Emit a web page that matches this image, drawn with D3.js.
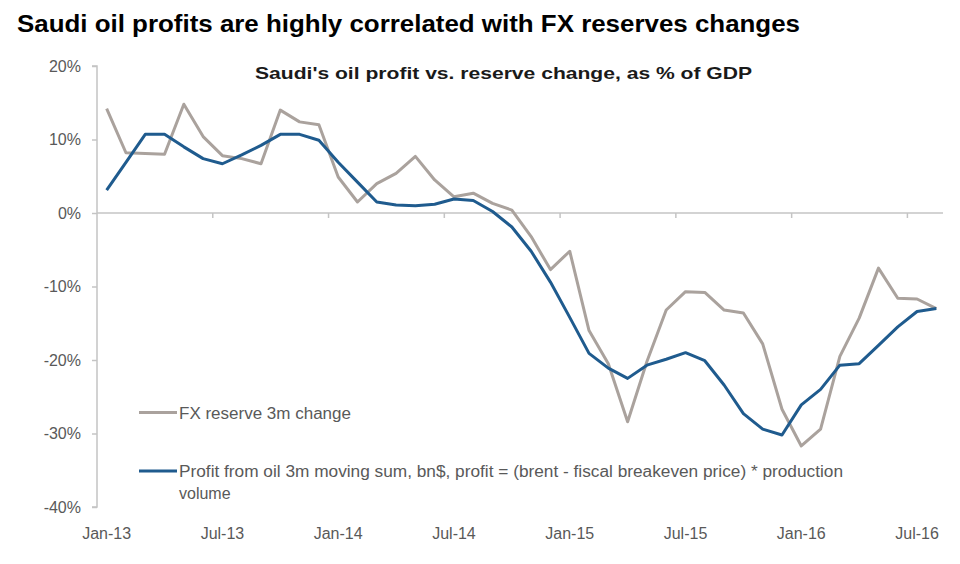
<!DOCTYPE html>
<html>
<head>
<meta charset="utf-8">
<script src="https://cdn.jsdelivr.net/npm/d3@7"></script>
<style>
html,body{margin:0;padding:0;background:#fff;}
svg{display:block;}
text{font-family:"Liberation Sans",Arial,Helvetica,sans-serif;}
</style>
</head>
<body>
<svg id="chart" width="960" height="564"></svg>
<script>
// ---- data ----
const months = ["Jan-13","Feb-13","Mar-13","Apr-13","May-13","Jun-13","Jul-13","Aug-13","Sep-13","Oct-13","Nov-13","Dec-13",
  "Jan-14","Feb-14","Mar-14","Apr-14","May-14","Jun-14","Jul-14","Aug-14","Sep-14","Oct-14","Nov-14","Dec-14",
  "Jan-15","Feb-15","Mar-15","Apr-15","May-15","Jun-15","Jul-15","Aug-15","Sep-15","Oct-15","Nov-15","Dec-15",
  "Jan-16","Feb-16","Mar-16","Apr-16","May-16","Jun-16","Jul-16","Aug-16"];
const fxReserve = [14.2,8.2,8.1,8.0,14.8,10.4,7.8,7.4,6.7,14.0,12.4,12.0,
  4.9,1.5,4.0,5.4,7.7,4.5,2.2,2.7,1.3,0.4,-3.2,-7.7,
  -5.2,-16.0,-20.5,-28.4,-20.2,-13.2,-10.7,-10.8,-13.2,-13.6,-17.8,-26.7,
  -31.7,-29.4,-19.5,-14.3,-7.5,-11.6,-11.7,-13.0];
const oilProfit = [3.1,6.9,10.7,10.7,9.0,7.4,6.7,7.9,9.2,10.7,10.7,9.9,
  6.9,4.2,1.5,1.1,1.0,1.2,1.9,1.7,0.2,-1.9,-5.2,-9.4,
  -14.2,-19.1,-21.1,-22.5,-20.7,-19.9,-19.0,-20.1,-23.4,-27.3,-29.4,-30.2,
  -26.1,-24.0,-20.7,-20.5,-18.0,-15.5,-13.4,-13.0];
const yTicks = [20,10,0,-10,-20,-30,-40];
const xLabels = ["Jan-13","Jul-13","Jan-14","Jul-14","Jan-15","Jul-15","Jan-16","Jul-16"];
const seriesNames = ["FX reserve 3m change",
  "Profit from oil 3m moving sum, bn$, profit = (brent - fiscal breakeven price) * production"];
const seriesNames2 = ["", "volume"];

const title = "Saudi oil profits are highly correlated with FX reserves changes";
const subtitle = "Saudi's oil profit vs. reserve change, as % of GDP";

// ---- drawing ----
const svg = d3.select("#chart");
const axisColor = "#c4c4c4";
const labelColor = "#595959";
const greyColor = "#aaa29d";
const blueColor = "#1f5b8e";

const x = d3.scaleBand().domain(months).range([97, 946]).padding(0);
const y = d3.scaleLinear().domain([-40, 20]).range([507, 66]);
const cx = d => x(d) + x.bandwidth() / 2;

function fitText(sel, target) {
  const n = sel.node();
  const w = n.getComputedTextLength();
  if (Math.abs(w - target) > 1) sel.attr("textLength", target).attr("lengthAdjust", "spacingAndGlyphs");
}

// title
const t = svg.append("text").attr("x", 17).attr("y", 32)
  .attr("font-size", 23).attr("font-weight", "bold").attr("fill", "#000").text(title);
fitText(t, 783);

// subtitle
const st = svg.append("text").attr("x", 255).attr("y", 79)
  .attr("font-size", 17).attr("font-weight", "bold").attr("fill", "#1a1a1a").text(subtitle);
fitText(st, 497);

// y axis
const yAxis = d3.axisLeft(y).tickValues(yTicks).tickSize(5).tickPadding(11)
  .tickFormat(d => d + "%");
const gy = svg.append("g").attr("transform", "translate(97,0)").call(yAxis);
gy.select(".domain").attr("stroke", axisColor).attr("stroke-width", 1.5).attr("d", `M-5,${y(20)}H0V${y(-40)}H-5`);
gy.selectAll(".tick line").attr("stroke", axisColor).attr("stroke-width", 1.5);
gy.selectAll(".tick text").attr("fill", labelColor).attr("font-size", 16)
  .attr("font-family", "Liberation Sans, Arial, sans-serif");

// x axis at zero (ticks at category boundaries)
const boundaryTicks = months.filter((d, i) => i > 0 && i % 6 === 0);
const xAxis = d3.axisBottom(x).tickValues(boundaryTicks).tickSize(5).tickFormat("");
const gx = svg.append("g").attr("transform", `translate(0,${y(0)})`).call(xAxis);
gx.select(".domain").attr("stroke", axisColor).attr("stroke-width", 1.5).attr("d", `M97,0H943`);
gx.selectAll(".tick").attr("transform", d => `translate(${x(d)},0)`);
gx.selectAll(".tick line").attr("stroke", axisColor).attr("stroke-width", 1.5);

// x labels at the bottom
svg.append("g").selectAll("text").data(xLabels).join("text")
  .attr("x", d => cx(d)).attr("y", 539)
  .attr("text-anchor", "middle").attr("fill", labelColor).attr("font-size", 16)
  .text(d => d);

// lines
const line = d3.line().x((d, i) => cx(months[i])).y(d => y(d));
svg.append("path").datum(fxReserve).attr("d", line)
  .attr("fill", "none").attr("stroke", greyColor).attr("stroke-width", 3).attr("stroke-linejoin", "round");
svg.append("path").datum(oilProfit).attr("d", line)
  .attr("fill", "none").attr("stroke", blueColor).attr("stroke-width", 3).attr("stroke-linejoin", "round");

// legend
const legendY = [412.5, 471];
const colors = [greyColor, blueColor];
seriesNames.forEach((name, i) => {
  svg.append("line").attr("x1", 139).attr("x2", 177).attr("y1", legendY[i]).attr("y2", legendY[i])
    .attr("stroke", colors[i]).attr("stroke-width", 3);
  const tx = svg.append("text").attr("x", 179).attr("y", legendY[i] + 6)
    .attr("font-size", 16).attr("fill", labelColor).text(name);
  fitText(tx, i === 0 ? 172 : 664);
  if (seriesNames2[i]) {
    svg.append("text").attr("x", 179).attr("y", legendY[i] + 28)
      .attr("font-size", 16).attr("fill", labelColor).text(seriesNames2[i]);
  }
});
</script>
</body>
</html>
